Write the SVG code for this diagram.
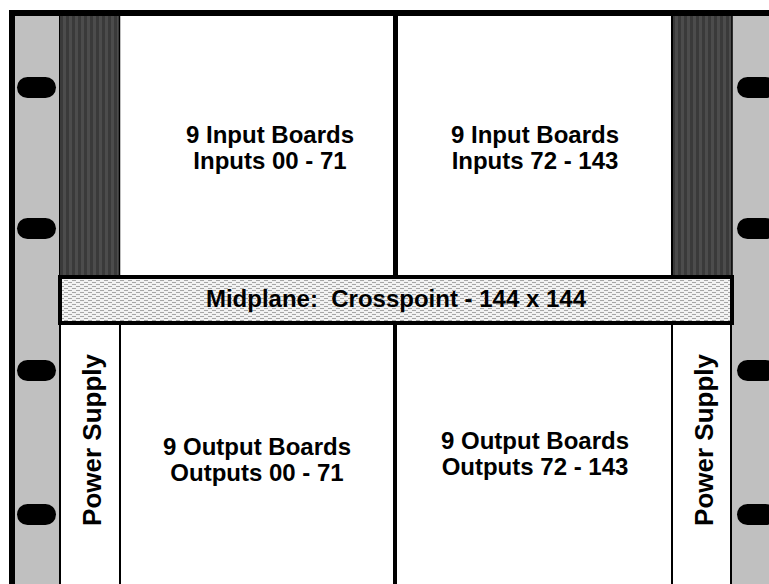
<svg xmlns="http://www.w3.org/2000/svg" width="769" height="584" viewBox="0 0 769 584">
<defs>
<pattern id="stripes" x="60" y="0" width="6" height="10" patternUnits="userSpaceOnUse">
<rect width="6" height="10" fill="#3a3a3a"/>
<rect x="3" width="3" height="10" fill="#4c4c4c"/>
</pattern>
<pattern id="mesh" x="0" y="0" width="8" height="4" patternUnits="userSpaceOnUse">
<rect width="8" height="4" fill="#f2f2f2"/>
<rect x="0" y="0" width="4" height="1" fill="#a6a6a6"/>
<rect x="4" y="2" width="4" height="1" fill="#a6a6a6"/>
</pattern>
<style>
.lbl{font-family:"Liberation Sans",Arial,sans-serif;font-weight:bold;font-size:24px;fill:#000;text-anchor:middle}
.ps{font-size:26px}
.oval{fill:#000}
.rail{fill:#c0c0c0}
</style>
</defs>
<rect width="769" height="584" fill="#fff"/>
<g id="frame">
<rect class="rail" x="15" y="16" width="45" height="568"/>
<rect class="rail" x="732" y="16" width="37" height="568"/>
<rect x="9" y="10" width="6" height="574" fill="#000"/>
<rect x="9" y="10" width="760" height="6" fill="#000"/>
</g>
<g id="ovals">
<rect class="oval" x="17" y="77" width="39" height="21" rx="10.5"/>
<rect class="oval" x="17" y="218" width="39" height="21" rx="10.5"/>
<rect class="oval" x="17" y="360" width="39" height="21" rx="10.5"/>
<rect class="oval" x="17" y="504" width="39" height="21" rx="10.5"/>
<rect class="oval" x="737" y="77" width="39" height="21" rx="10.5"/>
<rect class="oval" x="737" y="218" width="39" height="21" rx="10.5"/>
<rect class="oval" x="737" y="360" width="39" height="21" rx="10.5"/>
<rect class="oval" x="737" y="504" width="39" height="21" rx="10.5"/>
</g>
<g id="fan-left">
<rect x="60" y="16" width="60" height="260" fill="url(#stripes)"/>
<line x1="59.5" y1="16" x2="59.5" y2="276" stroke="#000" stroke-width="1"/>
<line x1="119.5" y1="16" x2="119.5" y2="276" stroke="#000" stroke-width="1.5"/>
</g>
<g id="fan-right">
<rect x="672" y="16" width="60" height="260" fill="url(#stripes)"/>
<line x1="672" y1="16" x2="672" y2="276" stroke="#000" stroke-width="2"/>
<line x1="732" y1="16" x2="732" y2="276" stroke="#000" stroke-width="1.5"/>
</g>
<g id="connectors">
<line x1="395.5" y1="16" x2="395.5" y2="276" stroke="#000" stroke-width="5"/>
<line x1="395" y1="324" x2="395" y2="584" stroke="#000" stroke-width="4"/>
<line x1="60" y1="324" x2="60" y2="584" stroke="#000" stroke-width="2"/>
<line x1="120" y1="324" x2="120" y2="584" stroke="#000" stroke-width="2"/>
<line x1="672" y1="324" x2="672" y2="584" stroke="#000" stroke-width="2"/>
<line x1="731" y1="324" x2="731" y2="584" stroke="#000" stroke-width="2"/>
</g>
<g id="input-boards-1">
<text class="lbl" x="270" y="143">9 Input Boards</text>
<text class="lbl" x="270" y="169">Inputs 00 - 71</text>
</g>
<g id="input-boards-2">
<text class="lbl" x="535" y="143">9 Input Boards</text>
<text class="lbl" x="535" y="169">Inputs 72 - 143</text>
</g>
<g id="midplane">
<rect x="60" y="277" width="672" height="46" fill="url(#mesh)" stroke="#000" stroke-width="4"/>
<text class="lbl" x="396" y="307" style="white-space:pre">Midplane:  Crosspoint - 144 x 144</text>
</g>
<g id="power-left">
<text class="lbl ps" transform="translate(101,440) rotate(-90)">Power Supply</text>
</g>
<g id="power-right">
<text class="lbl ps" transform="translate(713,440) rotate(-90)">Power Supply</text>
</g>
<g id="output-boards-1">
<text class="lbl" x="257" y="455">9 Output Boards</text>
<text class="lbl" x="257" y="481">Outputs 00 - 71</text>
</g>
<g id="output-boards-2">
<text class="lbl" x="535" y="449">9 Output Boards</text>
<text class="lbl" x="535" y="475">Outputs 72 - 143</text>
</g>
</svg>
